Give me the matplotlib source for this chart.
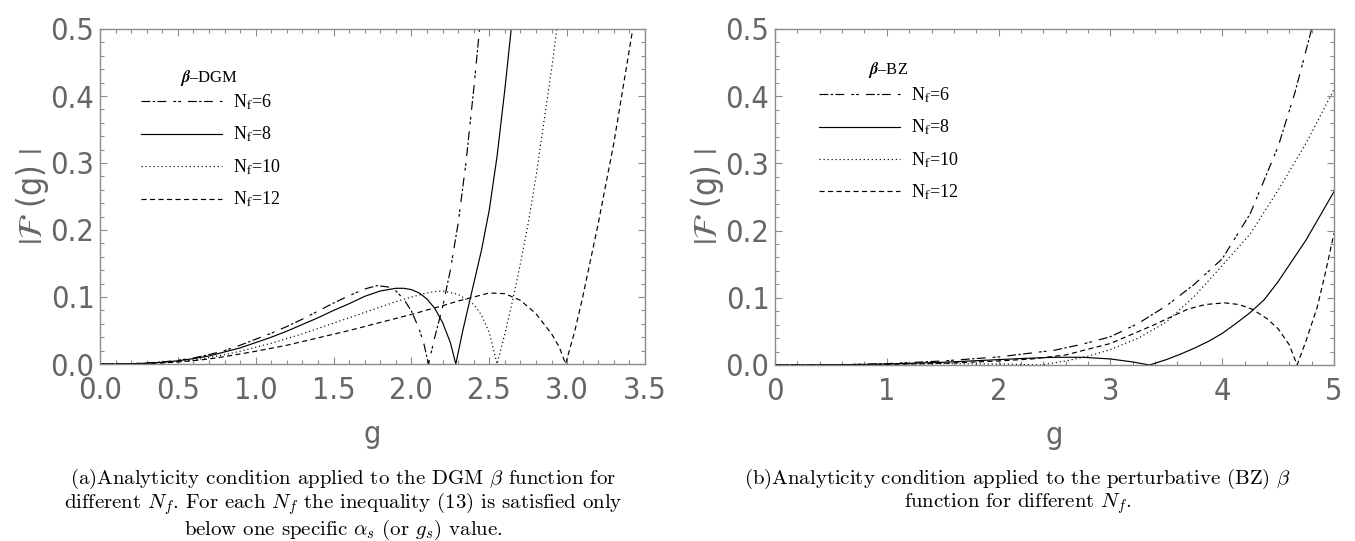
import matplotlib
matplotlib.use("Agg")
import matplotlib.pyplot as plt
from matplotlib.ticker import MultipleLocator, FormatStrFormatter
from matplotlib.font_manager import FontProperties

# ---- data ----
# (a) DGM beta function
dgm_g6 = [0.0, 0.1, 0.2, 0.3, 0.4, 0.5, 0.6, 0.7, 0.8, 0.9, 1.0, 1.1, 1.2, 1.3, 1.4, 1.5, 1.6, 1.7,
          1.78, 1.85, 1.9, 1.95, 2.0, 2.05, 2.08, 2.11, 2.15, 2.2, 2.25, 2.3, 2.35, 2.4, 2.45]
dgm_f6 = [0, 0.0001, 0.0005, 0.0015, 0.003, 0.0055, 0.009, 0.014, 0.02, 0.028, 0.037, 0.046, 0.056,
          0.067, 0.079, 0.091, 0.102, 0.112, 0.117, 0.115, 0.109, 0.097, 0.079, 0.052, 0.030, 0.0,
          0.04, 0.085, 0.14, 0.21, 0.30, 0.41, 0.53]

dgm_g8 = [0.0, 0.1, 0.2, 0.3, 0.4, 0.5, 0.6, 0.7, 0.8, 0.9, 1.0, 1.1, 1.2, 1.3, 1.4, 1.5, 1.6, 1.7,
          1.8, 1.9, 1.95, 2.0, 2.05, 2.1, 2.15, 2.2, 2.25, 2.285, 2.33, 2.38, 2.45, 2.5, 2.55, 2.6, 2.65]
dgm_f8 = [0, 0.0001, 0.0004, 0.0013, 0.0025, 0.0048, 0.008, 0.012, 0.018, 0.024, 0.032, 0.040,
          0.049, 0.059, 0.069, 0.080, 0.090, 0.101, 0.109, 0.113, 0.113, 0.111, 0.106, 0.097,
          0.083, 0.062, 0.032, 0.0, 0.05, 0.10, 0.17, 0.23, 0.31, 0.41, 0.52]

dgm_g10 = [0.0, 0.1, 0.2, 0.3, 0.4, 0.5, 0.6, 0.7, 0.8, 0.9, 1.0, 1.1, 1.2, 1.3, 1.4, 1.5, 1.6, 1.7,
           1.8, 1.9, 2.0, 2.1, 2.15, 2.2, 2.3, 2.4, 2.45, 2.5, 2.55, 2.6, 2.65, 2.7, 2.75, 2.8,
           2.85, 2.9, 2.95]
dgm_f10 = [0, 0.0001, 0.0003, 0.001, 0.002, 0.0038, 0.006, 0.0095, 0.014, 0.019, 0.025, 0.031,
           0.038, 0.045, 0.053, 0.061, 0.069, 0.077, 0.085, 0.093, 0.100, 0.106, 0.108, 0.109,
           0.104, 0.089, 0.073, 0.047, 0.0, 0.045, 0.095, 0.15, 0.21, 0.28, 0.36, 0.44, 0.53]

dgm_g12 = [0.0, 0.1, 0.2, 0.3, 0.4, 0.5, 0.6, 0.7, 0.8, 0.9, 1.0, 1.1, 1.2, 1.3, 1.4, 1.5, 1.6, 1.7,
           1.8, 1.9, 2.0, 2.1, 2.2, 2.3, 2.4, 2.5, 2.6, 2.7, 2.8, 2.9, 2.95, 2.99, 3.05, 3.1, 3.15,
           3.2, 3.25, 3.3, 3.35, 3.4, 3.45]
dgm_f12 = [0, 0.0001, 0.0002, 0.0007, 0.0015, 0.003, 0.005, 0.0075, 0.011, 0.015, 0.019, 0.0235,
           0.028, 0.0335, 0.039, 0.0445, 0.050, 0.056, 0.062, 0.068, 0.074, 0.0805, 0.087, 0.094,
           0.100, 0.106, 0.105, 0.095, 0.075, 0.045, 0.025, 0.0, 0.05, 0.10, 0.155, 0.21, 0.27,
           0.33, 0.40, 0.47, 0.54]

# (b) perturbative BZ beta function
bz_g6 = [0, 0.5, 1.0, 1.5, 2.0, 2.5, 2.75, 3.0, 3.25, 3.5, 3.75, 4.0, 4.25, 4.5, 4.65, 4.8, 4.85]
bz_f6 = [0, 0.0003, 0.002, 0.006, 0.012, 0.022, 0.031, 0.042, 0.062, 0.088, 0.12, 0.158, 0.225,
         0.325, 0.405, 0.50, 0.535]

bz_g8 = [0, 0.5, 1.0, 1.5, 2.0, 2.25, 2.5, 2.75, 3.0, 3.2, 3.35, 3.5, 3.625, 3.75, 3.875, 4.0,
         4.125, 4.25, 4.375, 4.5, 4.625, 4.75, 4.875, 5.0]
bz_f8 = [0, 0.0002, 0.0015, 0.004, 0.008, 0.010, 0.0115, 0.0115, 0.009, 0.0045, 0.0, 0.008,
         0.016, 0.025, 0.035, 0.047, 0.062, 0.078, 0.097, 0.124, 0.155, 0.186, 0.222, 0.258]

bz_g10 = [0, 0.5, 1.0, 1.5, 2.0, 2.2, 2.38, 2.6, 2.8, 3.0, 3.25, 3.5, 3.75, 4.0, 4.25, 4.5, 4.75, 5.0]
bz_f10 = [0, 0.0002, 0.001, 0.002, 0.0015, 0.0008, 0.0, 0.006, 0.013, 0.023, 0.04, 0.064, 0.102,
          0.148, 0.195, 0.26, 0.33, 0.41]

bz_g12 = [0, 0.5, 1.0, 1.5, 2.0, 2.3, 2.6, 3.0, 3.38, 3.69, 3.85, 4.02, 4.15, 4.27, 4.4, 4.5, 4.6,
          4.67, 4.75, 4.85, 4.92, 5.0]
bz_f12 = [0, 0.0001, 0.0008, 0.0025, 0.006, 0.009, 0.015, 0.032, 0.059, 0.083, 0.090, 0.0925,
          0.09, 0.083, 0.069, 0.054, 0.03, 0.0, 0.036, 0.086, 0.135, 0.196]

labels = ["N$_\\mathrm{f}$=6", "N$_\\mathrm{f}$=8", "N$_\\mathrm{f}$=10", "N$_\\mathrm{f}$=12"]
styles = [(0, (7.5, 2.0, 2.0, 2.0, 7.5, 6.0, 2.4, 1.6, 2.4, 6.0)), "-", (0, (1, 2.4)), (0, (4.3, 2.9))]

GREY = "#666666"
FRAME = "#8c8c8c"
TICKFONT = FontProperties(family="DejaVu Sans", stretch="condensed", size=22)

fig = plt.figure(figsize=(13.55, 5.41), dpi=100)
W, H = 1355, 541


def make_axes(x0, x1, y0, y1):
    return fig.add_axes([x0 / W, 1 - y1 / H, (x1 - x0) / W, (y1 - y0) / H])


def style_axes(ax, xmax, xmajor, xminor, xfmt, title, title_xy, leg_anchor):
    ax.set_xlim(0, xmax)
    ax.set_ylim(0, 0.5)
    ax.xaxis.set_major_locator(MultipleLocator(xmajor))
    ax.xaxis.set_minor_locator(MultipleLocator(xminor))
    ax.xaxis.set_major_formatter(FormatStrFormatter(xfmt))
    ax.yaxis.set_major_locator(MultipleLocator(0.1))
    ax.yaxis.set_minor_locator(MultipleLocator(0.02))
    ax.yaxis.set_major_formatter(FormatStrFormatter("%.1f"))
    for s in ax.spines.values():
        s.set_color(FRAME)
        s.set_linewidth(1.0)
    ax.tick_params(which="both", direction="in", top=True, right=True, color=FRAME, width=0.8)
    ax.tick_params(which="major", length=5, labelcolor=GREY)
    ax.tick_params(axis="x", which="major", pad=8.5)
    ax.tick_params(axis="y", which="major", pad=4)
    ax.tick_params(which="minor", length=3)
    for lab in ax.get_xticklabels() + ax.get_yticklabels():
        lab.set_fontproperties(TICKFONT)
    ax.set_xlabel("g", color=GREY, fontproperties=TICKFONT, labelpad=11)
    ylab = ax.set_ylabel(r"$|\mathcal{F}$ (g) $|$", color=GREY, fontproperties=TICKFONT)
    ylab.set_math_fontfamily("stix")
    ylab.set_fontsize(24)
    ax.text(title_xy[0], title_xy[1], title, transform=ax.transAxes, ha="center", va="center",
            family="Liberation Serif", fontsize=12, math_fontfamily="stix")
    prop = FontProperties(family="Liberation Serif", size=13, math_fontfamily="stix")
    ax.legend(prop=prop, frameon=False, loc="upper left", bbox_to_anchor=leg_anchor,
              borderpad=0, borderaxespad=0, handlelength=4.5, handletextpad=0.6,
              labelspacing=0.72)


lw = 0.85
ax1 = make_axes(100, 645, 29, 364)
for g, f, ls, lab in zip([dgm_g6, dgm_g8, dgm_g10, dgm_g12], [dgm_f6, dgm_f8, dgm_f10, dgm_f12],
                         styles, labels):
    ax1.plot(g, f, color="black", lw=lw, linestyle=ls, label=lab)
style_axes(ax1, 3.5, 0.5, 0.1, "%.1f", r"$\boldsymbol{\beta}$–DGM",
           ((209 - 100) / 545, (364 - 78) / 335), (0.075, 0.81))
ax1.yaxis.set_label_coords(-0.09, 0.5)

ax2 = make_axes(775, 1334, 29, 365)
for g, f, ls, lab in zip([bz_g6, bz_g8, bz_g10, bz_g12], [bz_f6, bz_f8, bz_f10, bz_f12],
                         styles, labels):
    ax2.plot(g, f, color="black", lw=lw, linestyle=ls, label=lab)
style_axes(ax2, 5, 1, 0.2, "%d", r"$\boldsymbol{\beta}$–BZ",
           ((888 - 775) / 559, (365 - 70) / 336), (0.079, 0.832))
ax2.yaxis.set_label_coords(-0.088, 0.5)

# captions
cap = dict(fontsize=15, family="cmr10", math_fontfamily="cm", ha="center", va="center")
fig.text(343 / W, 1 - 479 / H, r"(a)Analyticity condition applied to the DGM $\beta$ function for", **cap)
fig.text(343 / W, 1 - 504 / H, r"different $N_f$. For each $N_f$ the inequality (13) is satisfied only", **cap)
fig.text(343 / W, 1 - 530 / H, r"below one specific $\alpha_s$ (or $g_s$) value.", **cap)
fig.text(1018 / W, 1 - 479 / H, r"(b)Analyticity condition applied to the perturbative (BZ) $\beta$", **cap)
fig.text(1018 / W, 1 - 504 / H, r"function for different $N_f$.", **cap)

fig.savefig("out.png", dpi=100)
